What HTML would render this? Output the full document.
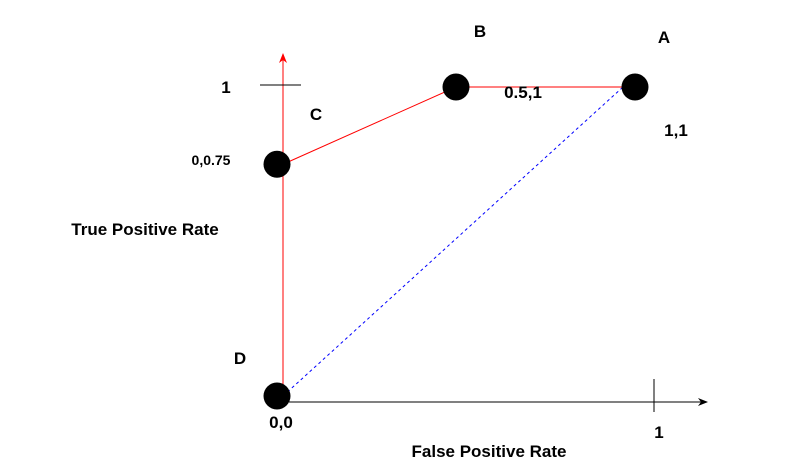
<!DOCTYPE html>
<html><head><meta charset="utf-8"><style>
body{margin:0;background:#fff}
svg{display:block;font-family:"Liberation Sans",Arial,sans-serif;font-weight:bold}
</style></head><body>
<svg id="c" width="787" height="474" viewBox="0 0 787 474">
<defs>
<marker id="ab" markerWidth="10" markerHeight="8" refX="9" refY="4" orient="auto" markerUnits="userSpaceOnUse"><path d="M0,0 L10,4 L0,8 L3,4 Z" fill="#000"/></marker>
<marker id="ar" markerWidth="10" markerHeight="8" refX="9" refY="4" orient="auto" markerUnits="userSpaceOnUse"><path d="M0,0 L10,4 L0,8 L3,4 Z" fill="#f00"/></marker>
</defs>
<line x1="289" y1="402" x2="707" y2="402" stroke="#000" stroke-width="1" marker-end="url(#ab)"/>
<line x1="654" y1="379" x2="654" y2="412" stroke="#000"/>
<line x1="283" y1="396" x2="283" y2="54" stroke="#f00" marker-end="url(#ar)"/>
<line x1="260" y1="85" x2="301" y2="85" stroke="#000"/>
<g id="marks"></g>
<g font-size="17" fill="#000">
<text x="226" y="93" text-anchor="middle">1</text>
<text x="316" y="120" text-anchor="middle">C</text>
<text x="211" y="165" text-anchor="middle" font-size="14">0,0.75</text>
<text x="480" y="37" text-anchor="middle">B</text>
<text x="664" y="43" text-anchor="middle">A</text>
<text x="523" y="98" text-anchor="middle">0.5,1</text>
<text x="676" y="136" text-anchor="middle">1,1</text>
<text x="145" y="235" text-anchor="middle">True Positive Rate</text>
<text x="240" y="364" text-anchor="middle">D</text>
<text x="281" y="428" text-anchor="middle">0,0</text>
<text x="659" y="438" text-anchor="middle">1</text>
<text x="489" y="457" text-anchor="middle">False Positive Rate</text>
</g>
</svg>
<script>
const pointNames=["D","C","B","A"];
const fpr=[0,0,0.5,1];
const tpr=[0,0.75,1,1];
function x(v){return 277+v*358;}
function y(v){return 396-v*309;}
const ns="http://www.w3.org/2000/svg";
const g=document.getElementById("marks");
let d="";
for(let i=0;i<fpr.length;i++){d+=(i?"L":"M")+(x(fpr[i])+(i<2?6:0))+","+y(tpr[i]);}
const p=document.createElementNS(ns,"path");
p.setAttribute("d",d);p.setAttribute("fill","none");p.setAttribute("stroke","#f00");


g.appendChild(p);
const dl=document.createElementNS(ns,"line");
dl.setAttribute("x1",x(fpr[0])+6);dl.setAttribute("y1",y(tpr[0]));
dl.setAttribute("x2",x(fpr[3])-12);dl.setAttribute("y2",y(tpr[3]));
dl.setAttribute("stroke","#00f");dl.setAttribute("stroke-dasharray","3,3");


g.appendChild(dl);
for(let i=0;i<fpr.length;i++){
const c=document.createElementNS(ns,"circle");
c.setAttribute("cx",x(fpr[i]));c.setAttribute("cy",y(tpr[i]));c.setAttribute("r",13.5);c.setAttribute("fill","#000");


g.appendChild(c);
}
</script>
</body></html>
